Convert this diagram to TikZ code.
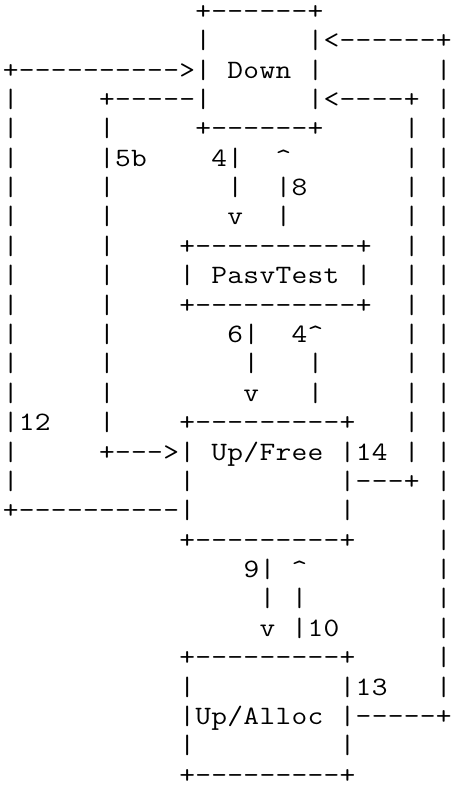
\documentclass[tikz,border=0pt]{standalone}
\usepackage{fontspec}
\newlength\cw
\setlength\cw{13.912pt}
\newcommand\blanks[1]{\hspace*{#1\cw}}
\newcommand\upmark{\textasciicircum}
\newcommand\gridend{\gridend}
\newcommand\gridrow[1]{\gridloop#1\gridend}
\def\gridloop#1{%
  \ifx#1\gridend\let\gridnext\relax
  \else\ifx#1\blanks\let\gridnext\gridskip
  \else\makebox[\cw]{#1}\let\gridnext\gridloop\fi\fi\gridnext}
\def\gridskip#1{\blanks{#1}\gridloop}

\begin{document}
\begin{tikzpicture}[x=16.04pt,y=-29.38pt,
  row/.style={transform shape,xscale=1.153,anchor=base west,inner sep=0pt,
    font=\ttfamily\fontsize{26.5}{30}\selectfont}]
\useasboundingbox (-0.156,0.343) rectangle (28.024,27.096);
\node[row] (r1) at (0,1) {\gridrow{\blanks{12}+------+}};
\node[row] (r2) at (0,2) {\gridrow{\blanks{12}|\blanks{6}|<------+}};
\node[row] (r3) at (0,3) {\gridrow{+---------->|\blanks{1}Down\blanks{1}|\blanks{7}|}};
\node[row] (r4) at (0,4) {\gridrow{|\blanks{5}+-----|\blanks{6}|<----+\blanks{1}|}};
\node[row] (r5) at (0,5) {\gridrow{|\blanks{5}|\blanks{5}+------+\blanks{5}|\blanks{1}|}};
\node[row] (r6) at (0,6) {\gridrow{|\blanks{5}|5b\blanks{4}4|\blanks{2}\upmark\blanks{7}|\blanks{1}|}};
\node[row] (r7) at (0,7) {\gridrow{|\blanks{5}|\blanks{7}|\blanks{2}|8\blanks{6}|\blanks{1}|}};
\node[row] (r8) at (0,8) {\gridrow{|\blanks{5}|\blanks{7}v\blanks{2}|\blanks{7}|\blanks{1}|}};
\node[row] (r9) at (0,9) {\gridrow{|\blanks{5}|\blanks{4}+----------+\blanks{2}|\blanks{1}|}};
\node[row] (r10) at (0,10) {\gridrow{|\blanks{5}|\blanks{4}|\blanks{1}PasvTest\blanks{1}|\blanks{2}|\blanks{1}|}};
\node[row] (r11) at (0,11) {\gridrow{|\blanks{5}|\blanks{4}+----------+\blanks{2}|\blanks{1}|}};
\node[row] (r12) at (0,12) {\gridrow{|\blanks{5}|\blanks{7}6|\blanks{2}4\upmark\blanks{5}|\blanks{1}|}};
\node[row] (r13) at (0,13) {\gridrow{|\blanks{5}|\blanks{8}|\blanks{3}|\blanks{5}|\blanks{1}|}};
\node[row] (r14) at (0,14) {\gridrow{|\blanks{5}|\blanks{8}v\blanks{3}|\blanks{5}|\blanks{1}|}};
\node[row] (r15) at (0,15) {\gridrow{|12\blanks{3}|\blanks{4}+---------+\blanks{3}|\blanks{1}|}};
\node[row] (r16) at (0,16) {\gridrow{|\blanks{5}+--->|\blanks{1}Up/Free\blanks{1}|14\blanks{1}|\blanks{1}|}};
\node[row] (r17) at (0,17) {\gridrow{|\blanks{10}|\blanks{9}|---+\blanks{1}|}};
\node[row] (r18) at (0,18) {\gridrow{+----------|\blanks{9}|\blanks{5}|}};
\node[row] (r19) at (0,19) {\gridrow{\blanks{11}+---------+\blanks{5}|}};
\node[row] (r20) at (0,20) {\gridrow{\blanks{15}9|\blanks{1}\upmark\blanks{8}|}};
\node[row] (r21) at (0,21) {\gridrow{\blanks{16}|\blanks{1}|\blanks{8}|}};
\node[row] (r22) at (0,22) {\gridrow{\blanks{16}v\blanks{1}|10\blanks{6}|}};
\node[row] (r23) at (0,23) {\gridrow{\blanks{11}+---------+\blanks{5}|}};
\node[row] (r24) at (0,24) {\gridrow{\blanks{11}|\blanks{9}|13\blanks{3}|}};
\node[row] (r25) at (0,25) {\gridrow{\blanks{11}|Up/Alloc\blanks{1}|-----+}};
\node[row] (r26) at (0,26) {\gridrow{\blanks{11}|\blanks{9}|}};
\node[row] (r27) at (0,27) {\gridrow{\blanks{11}+---------+}};
\end{tikzpicture}
\end{document}
